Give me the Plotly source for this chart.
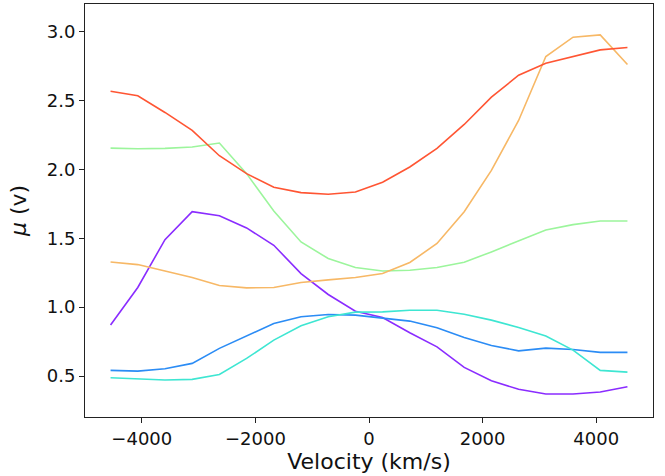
import plotly.graph_objects as go

velocity = [-4550, -4071, -3592, -3113, -2634, -2155, -1676, -1197, -718, -239,
            239, 718, 1197, 1676, 2155, 2634, 3113, 3592, 4071, 4550]

series_purple = [0.870, 1.143, 1.490, 1.693, 1.664, 1.575, 1.449, 1.244, 1.092, 0.971,
                 0.925, 0.814, 0.712, 0.563, 0.466, 0.404, 0.370, 0.370, 0.384, 0.422]
series_blue = [0.541, 0.536, 0.553, 0.592, 0.701, 0.792, 0.882, 0.930, 0.947, 0.942,
               0.918, 0.899, 0.850, 0.780, 0.722, 0.683, 0.703, 0.693, 0.672, 0.672]
series_cyan = [0.488, 0.481, 0.471, 0.476, 0.512, 0.628, 0.761, 0.865, 0.930, 0.964,
               0.966, 0.978, 0.978, 0.949, 0.906, 0.853, 0.790, 0.688, 0.541, 0.529]
series_green = [2.154, 2.150, 2.152, 2.162, 2.191, 1.969, 1.698, 1.473, 1.353, 1.288,
                1.263, 1.268, 1.288, 1.326, 1.401, 1.480, 1.560, 1.599, 1.625, 1.625]
series_orange = [1.328, 1.309, 1.263, 1.215, 1.157, 1.140, 1.143, 1.179, 1.198, 1.215,
                 1.244, 1.324, 1.462, 1.693, 1.993, 2.355, 2.819, 2.959, 2.976, 2.761]
series_red = [2.567, 2.534, 2.413, 2.283, 2.099, 1.969, 1.870, 1.831, 1.819, 1.836,
              1.906, 2.017, 2.152, 2.326, 2.524, 2.683, 2.770, 2.819, 2.867, 2.884]

series = [series_purple, series_blue, series_cyan, series_green, series_orange, series_red]
colors = ["#8a2cff", "#2b8cf5", "#3ee6d2", "#9cf59c", "#f7b866", "#ff5533"]

x_ticks = [-4000, -2000, 0, 2000, 4000]
x_tick_labels = ["\u22124000", "\u22122000", "0", "2000", "4000"]
y_ticks = [0.5, 1.0, 1.5, 2.0, 2.5, 3.0]
y_tick_labels = ["0.5", "1.0", "1.5", "2.0", "2.5", "3.0"]

fig = go.Figure()
for vals, col in zip(series, colors):
    fig.add_trace(go.Scatter(x=velocity, y=vals, mode="lines",
                             line=dict(color=col, width=1.6), showlegend=False))

axis_common = dict(showline=True, linecolor="#222", linewidth=1, mirror=True,
                   ticks="outside", ticklen=5, tickwidth=1, tickcolor="#222",
                   showgrid=False, zeroline=False, automargin=False,
                   tickfont=dict(family="DejaVu Sans", size=18, color="#111"))

fig.update_layout(
    width=665, height=476,
    margin=dict(l=85, r=12, t=4, b=59),
    paper_bgcolor="white", plot_bgcolor="white",
    xaxis=dict(range=[-5000, 5000], tickvals=x_ticks, ticktext=x_tick_labels,
               title=dict(text="Velocity (km/s)", standoff=4,
                          font=dict(family="DejaVu Sans", size=22, color="#111")),
               **axis_common),
    yaxis=dict(range=[0.203, 3.2], tickvals=y_ticks, ticktext=y_tick_labels,
               title=dict(text="<i>μ</i> (v)", standoff=14,
                          font=dict(family="DejaVu Sans", size=22, color="#111")),
               **axis_common),
)

fig.write_html("out.html", config={"displayModeBar": False},
               post_script="document.body.style.margin='0';")
